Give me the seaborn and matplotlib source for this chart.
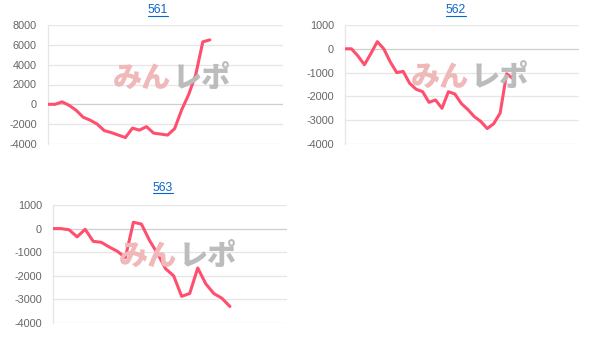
import numpy as np
import pandas as pd
import matplotlib
matplotlib.use("Agg")
import matplotlib.pyplot as plt
from matplotlib.lines import Line2D
import seaborn as sns

# ---- data ----
titles = ["561", "562", "563"]
values_561 = [0, 0, 250, -100, -600, -1300, -1600, -2000, -2650, -2850, -3100, -3350,
              -2400, -2600, -2250, -2900, -3000, -3100, -2450, -550, 1000, 3000, 6300, 6500]
values_562 = [0, 0, -300, -670, -200, 300, 0, -550, -1000, -950, -1450, -1700, -1800,
              -2250, -2150, -2500, -1800, -1900, -2300, -2550, -2850, -3050, -3350,
              -3150, -2700, -1050, -1250]
values_563 = [0, 0, -50, -350, -30, -540, -580, -780, -960, -1230, 270, 190, -500,
              -1060, -1700, -2000, -2870, -2750, -1670, -2340, -2750, -2950, -3300]
series = [values_561, values_562, values_563]
yticks_561 = [-4000, -2000, 0, 2000, 4000, 6000, 8000]
yticks_small = [-4000, -3000, -2000, -1000, 0, 1000]
yticks = [yticks_561, yticks_small, yticks_small]
x_extent = [33.4, 36.2, 29.1]

W, H = 608, 343
sns.set_theme(style="white")
plt.rcParams['font.family'] = ['Liberation Sans', 'DejaVu Sans']

fig = plt.figure(figsize=(W / 100, H / 100), dpi=100)

# axes boxes in pixels: left, top, right, bottom
boxes = [(48, 25, 283, 144), (345, 25, 579, 144), (53, 205, 287, 323)]
title_pos = [(158, 10), (456, 10), (163, 188)]
wm_pos = [(172, 78), (470, 77), (178, 256)]

line_color = "#ff4f6e"
grid_color = "#e6e6e6"

for i in range(3):
    l, t, r, b = boxes[i]
    ax = fig.add_axes([l / W, 1 - b / H, (r - l) / W, (b - t) / H])
    df = pd.DataFrame({"x": np.arange(len(series[i])), "y": series[i]})
    sns.lineplot(data=df, x="x", y="y", ax=ax, color=line_color, linewidth=2.2, zorder=3)
    ax.set_xlim(0, x_extent[i])
    ax.set_ylim(min(yticks[i]), max(yticks[i]))
    ax.set_yticks(yticks[i])
    ax.set_yticklabels([str(v) for v in yticks[i]])
    ax.set_xticks([])
    ax.set_xlabel("")
    ax.set_ylabel("")
    for v in yticks[i]:
        ax.axhline(v, color="#cfcfcf" if v == 0 else grid_color, lw=0.9, zorder=1)
    for s in ["top", "right", "bottom"]:
        ax.spines[s].set_visible(False)
    ax.spines["left"].set_color(grid_color)
    ax.spines["left"].set_linewidth(0.9)
    ax.tick_params(axis="y", length=6, width=0.9, color=grid_color, pad=2,
                   labelsize=7.8, labelcolor="#666666")
    ax.patch.set_alpha(0)
    # watermark
    wx, wy = wm_pos[i]
    fig.text((wx - 1) / W, 1 - wy / H, "みん", ha="right", va="center", fontsize=21,
             fontweight="heavy", color="#f0b8b8", family=["Noto Sans CJK JP"], zorder=0)
    fig.text((wx + 1) / W, 1 - wy / H, "レポ", ha="left", va="center", fontsize=21,
             fontweight="heavy", color="#bcbcbc", family=["Noto Sans CJK JP"], zorder=0)
    # title
    tx, ty = title_pos[i]
    fig.text(tx / W, 1 - ty / H, titles[i], ha="center", va="center", fontsize=8.8,
             color="#0a66c8")

fig.canvas.draw()
renderer = fig.canvas.get_renderer()
for txt in fig.texts:
    if txt.get_text() in titles:
        bb = txt.get_window_extent(renderer)
        y = bb.y0 + 0.5
        fig.add_artist(Line2D([bb.x0 / W, bb.x1 / W], [y / H, y / H],
                              transform=fig.transFigure, color="#0a66c8", lw=0.8))

fig.savefig("out.png", dpi=100)
